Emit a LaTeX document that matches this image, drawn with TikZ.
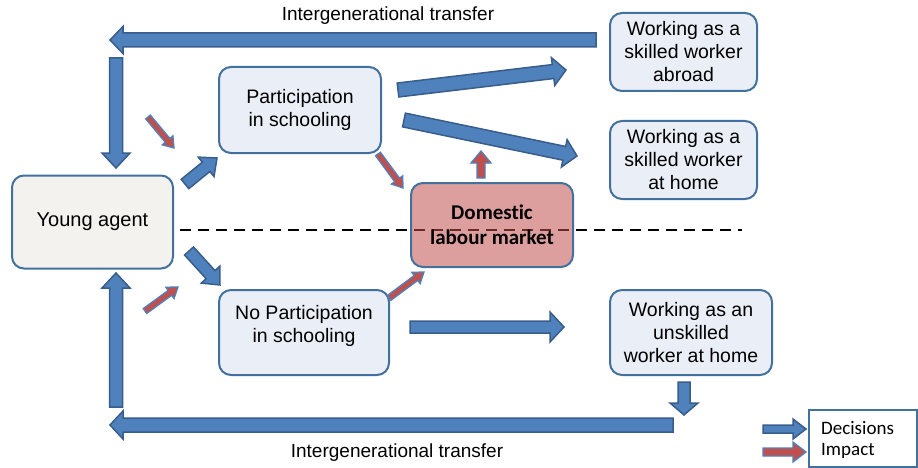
\documentclass[tikz,border=0pt]{standalone}
\usepackage{fontspec}
\setmainfont{Liberation Sans}
\newfontfamily\calfont[Ligatures=NoCommon]{Carlito}
\usetikzlibrary{calc}
\definecolor{blueF}{HTML}{4F81BD}
\definecolor{blueD}{HTML}{385D8A}
\definecolor{boxB}{HTML}{41719C}
\definecolor{lightB}{HTML}{EAEFF7}
\definecolor{agentF}{HTML}{F3F2EE}
\definecolor{redF}{HTML}{C0504D}
\newcommand\blockarr[6]{%
  \path[#1] let \p1=(#2), \p2=(#3), \n1={atan2(\y2-\y1,\x2-\x1)}, \n2={veclen(\x2-\x1,\y2-\y1)} in
   [shift={(\p1)}, rotate=\n1] (0,-#4) -- ({\n2-#6},-#4) -- ({\n2-#6},-#5) -- (\n2,0) -- ({\n2-#6},#5) -- ({\n2-#6},#4) -- (0,#4) -- cycle;
}
\tikzset{
  box/.style={draw=boxB, line width=2pt, rounded corners=12pt, fill=lightB, inner sep=0pt, outer sep=0pt,
    align=center, font=\fontsize{19.5}{23}\selectfont},
  decision/.style={fill=blueF, draw=blueD, line width=1.5pt, line join=miter},
  impact/.style={fill=redF, draw=blueF, line width=1.3pt, line join=miter},
  lbl/.style={font=\fontsize{19}{23}\selectfont, inner sep=0pt}
}
\begin{document}
\begin{tikzpicture}[x=1pt, y=-1pt]
\useasboundingbox (0,0) rectangle (918,468);
% dashed line
\coordinate (dl1) at (180,230);
\coordinate (dl2) at (742,230);
\draw[dashed, line width=2pt, dash pattern=on 11pt off 7pt] (dl1) -- (dl2);
% nodes
\node[box, fill=agentF, minimum width=161pt, minimum height=93pt, font=\fontsize{20}{23}\selectfont] (ya) at (92.5,222) {Young agent};
\node[box, minimum width=162pt, minimum height=86pt] (ps) at (300,110) {Participation\\in schooling};
\node[box, minimum width=170pt, minimum height=85pt] (np) at (304,332.5) {};
\node[lbl, align=center, font=\fontsize{19.5}{23}\selectfont] (npt) at (304,326) {No Participation\\in schooling};
\node[box, fill=redF, fill opacity=0.55, text opacity=1, minimum width=162pt, minimum height=84pt,
  font=\calfont\bfseries\fontsize{21}{25}\selectfont] (dl) at (492,225) {Domestic\\labour market};
\node[box, minimum width=147pt, minimum height=78pt] (wa) at (683.5,52) {Working as a\\skilled worker\\abroad};
\node[box, minimum width=147pt, minimum height=78pt] (wh) at (683.5,160) {Working as a\\skilled worker\\at home};
\node[box, minimum width=162pt, minimum height=85pt] (wu) at (691,332.5) {Working as an\\unskilled\\worker at home};
% labels
\node[lbl] (tt) at (388,16) {Intergenerational transfer};
\node[lbl] (bt) at (397,453) {Intergenerational transfer};
% legend
\node[draw=boxB, line width=1.5pt, minimum width=108pt, minimum height=57pt, inner sep=0pt] (leg) at (863,438.5) {};
\node[anchor=west, inner sep=0pt, font=\calfont\fontsize{19}{22}\selectfont] (ld) at (821,428) {Decisions};
\node[anchor=west, inner sep=0pt, font=\calfont\fontsize{19}{22}\selectfont] (li) at (821,451) {Impact};
% arrow coordinates
\coordinate (a1s) at (596,40);  \coordinate (a1e) at (110,40);
\coordinate (a2s) at (116,58);  \coordinate (a2e) at (116,168);
\coordinate (a3s) at (185,184); \coordinate (a3e) at (217,158);
\coordinate (a4s) at (189,251); \coordinate (a4e) at (220,285);
\coordinate (a5s) at (398,90);  \coordinate (a5e) at (566,70);
\coordinate (a6s) at (404,120); \coordinate (a6e) at (577,156);
\coordinate (a7s) at (410,327); \coordinate (a7e) at (564,327);
\coordinate (a8s) at (684,382); \coordinate (a8e) at (684,415);
\coordinate (a9s) at (673,425); \coordinate (a9e) at (110,425);
\coordinate (a10s) at (116,407); \coordinate (a10e) at (116,273);
\coordinate (lbs) at (763,429); \coordinate (lbe) at (806,429);
\coordinate (lrs) at (763,452); \coordinate (lre) at (806,452);
\coordinate (r1s) at (148,117); \coordinate (r1e) at (174,148);
\coordinate (r2s) at (378,154); \coordinate (r2e) at (403,188);
\coordinate (r3s) at (145,311); \coordinate (r3e) at (178,287);
\coordinate (r4s) at (389,298); \coordinate (r4e) at (424,272);
\coordinate (r5s) at (481,178); \coordinate (r5e) at (481,151);
% decisions
\blockarr{decision}{a1s}{a1e}{7}{13.5}{13}
\blockarr{decision}{a2s}{a2e}{6.5}{14}{15}
\blockarr{decision}{a3s}{a3e}{6}{12.5}{14}
\blockarr{decision}{a4s}{a4e}{6}{12.5}{14}
\blockarr{decision}{a5s}{a5e}{7}{14}{13}
\blockarr{decision}{a6s}{a6e}{7}{14}{13}
\blockarr{decision}{a7s}{a7e}{6}{15}{14}
\blockarr{decision}{a8s}{a8e}{6}{14}{12}
\blockarr{decision}{a9s}{a9e}{7}{14}{13}
\blockarr{decision}{a10s}{a10e}{6.5}{14}{15}
\blockarr{decision}{lbs}{lbe}{4}{10}{13}
\blockarr{impact}{lrs}{lre}{4}{10}{13}
% impacts
\blockarr{impact}{r1s}{r1e}{3}{7}{10}
\blockarr{impact}{r2s}{r2e}{3}{7}{10}
\blockarr{impact}{r3s}{r3e}{3}{7}{10}
\blockarr{impact}{r4s}{r4e}{3}{7}{10}
\blockarr{impact}{r5s}{r5e}{4}{10}{12}
\end{tikzpicture}
\end{document}
